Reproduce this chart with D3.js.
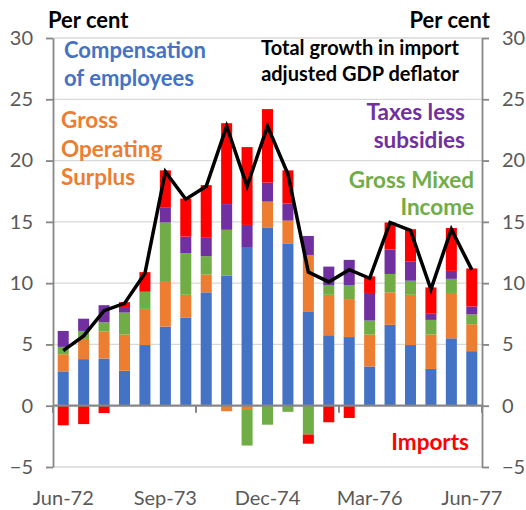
<!DOCTYPE html>
<html>
<head>
<meta charset="utf-8">
<script src="https://cdn.jsdelivr.net/npm/d3@7"></script>
<style>
  body { margin: 0; background: #fff; }
  svg text { font-family: Lato, "Open Sans", sans-serif; }
  .tick text { fill: #595959; font-size: 20px; }
  .note { font-weight: bold; }
</style>
</head>
<body>
<div id="chart"></div>
<script>
// quarterly contributions to growth in import adjusted GDP deflator (per cent)
var quarters = ['Jun-72', 'Sep-72', 'Dec-72', 'Mar-73', 'Jun-73', 'Sep-73', 'Dec-73', 'Mar-74', 'Jun-74', 'Sep-74', 'Dec-74',
  'Mar-75', 'Jun-75', 'Sep-75', 'Dec-75', 'Mar-76', 'Jun-76', 'Sep-76', 'Dec-76', 'Mar-77', 'Jun-77'];
var compensation = [2.8, 3.8, 3.85, 2.85, 4.95, 6.45, 7.2, 9.25, 10.6, 12.95, 14.55, 13.2, 7.65, 5.75, 5.6, 3.2, 6.6, 4.95, 3.0, 5.5, 4.45];
var operating = [1.4, 1.65, 2.2, 2.95, 2.95, 3.65, 1.85, 1.45, -0.45, -0.35, 2.1, 1.9, 4.65, 3.3, 3.1, 2.6, 2.65, 4.1, 2.8, 3.7, 2.2];
var mixed = [0.6, 0.65, 0.75, 1.8, 1.4, 4.85, 3.4, 1.5, 3.75, -2.9, -1.55, -0.5, -2.35, 0.8, 1.15, 1.15, 1.5, 1.15, 1.2, 1.15, 0.8];
var taxes = [1.3, 1.0, 1.4, 0.45, 0, 1.2, 1.35, 1.5, 2.1, 1.8, 1.55, 1.4, 1.55, 1.5, 2.05, 2.25, 2.0, 1.55, 0.5, 0.65, 0.65];
var imports = [-1.6, -1.5, -0.6, 0.4, 1.6, 3.05, 3.1, 4.3, 6.6, 6.35, 6.0, 2.7, -0.75, -1.35, -1.0, 1.35, 2.2, 2.65, 2.15, 3.5, 3.1];
var total = [4.5, 5.7, 7.75, 8.35, 10.8, 19.1, 16.85, 17.9, 22.8, 17.9, 22.8, 18.9, 10.9, 10.1, 11.1, 10.4, 14.95, 14.3, 9.5, 14.4, 11.1];
var yTicks = [-5, 0, 5, 10, 15, 20, 25, 30];
var xLabels = ['Jun-72', 'Sep-73', 'Dec-74', 'Mar-76', 'Jun-77'];

var keys = ['compensation', 'operating', 'mixed', 'taxes', 'imports'];
var colors = { compensation: '#4472C4', operating: '#ED7D31', mixed: '#70AD47', taxes: '#7030A0', imports: '#FF0000' };

var rows = quarters.map(function(q, i) {
  return { q: q, compensation: compensation[i], operating: operating[i], mixed: mixed[i],
    taxes: taxes[i], imports: imports[i], total: total[i] };
});

var w = 526, h = 510;
var plotLeft = 53, plotRight = 482, plotTop = 38, plotBottom = 467;

var svg = d3.select('#chart').append('svg')
  .attr('width', w)
  .attr('height', h);

var x = d3.scaleBand()
  .domain(quarters)
  .range([plotLeft, plotRight])
  .paddingInner(0.46)
  .paddingOuter(0.23);

var y = d3.scaleLinear()
  .domain([-5, 30])
  .range([plotBottom, plotTop]);

// gridlines
svg.append('g')
  .selectAll('line')
  .data(yTicks.filter(d => d != 0))
  .enter()
  .append('line')
    .attr('x1', plotLeft)
    .attr('x2', plotRight)
    .attr('y1', d => y(d))
    .attr('y2', d => y(d))
    .attr('stroke', '#D9D9D9')
    .attr('stroke-width', 1.3);

var series = d3.stack()
  .keys(keys)
  .offset(d3.stackOffsetDiverging)(rows);

svg.append('g')
  .selectAll('g')
  .data(series)
  .enter()
  .append('g')
    .attr('fill', d => colors[d.key])
  .selectAll('rect')
  .data(d => d)
  .enter()
  .append('rect')
    .attr('x', d => x(d.data.q))
    .attr('width', x.bandwidth())
    .attr('y', d => y(d[1]))
    .attr('height', d => Math.abs(y(d[0]) - y(d[1])));

// axes
var leftAxis = d3.axisLeft(y).tickValues(yTicks).tickSize(7).tickSizeOuter(0).tickPadding(13);
var rightAxis = d3.axisRight(y).tickValues(yTicks).tickSize(7).tickSizeOuter(0).tickPadding(13);

svg.append('g')
  .attr('class', 'axis')
  .attr('transform', 'translate(' + plotLeft + ',0)')
  .call(leftAxis);

svg.append('g')
  .attr('class', 'axis')
  .attr('transform', 'translate(' + plotRight + ',0)')
  .call(rightAxis);

// zero line with category tick marks every 7 quarters
svg.append('line')
  .attr('x1', plotLeft)
  .attr('x2', plotRight)
  .attr('y1', y(0))
  .attr('y2', y(0))
  .attr('stroke', '#868686')
  .attr('stroke-width', 2.2);

var gap = (x.step() - x.bandwidth()) / 2;
svg.append('g')
  .selectAll('line')
  .data([0, 7, 14, 21])
  .enter()
  .append('line')
    .attr('x1', i => i < 21 ? x(quarters[i]) - gap : x(quarters[20]) + x.bandwidth() + gap)
    .attr('x2', i => i < 21 ? x(quarters[i]) - gap : x(quarters[20]) + x.bandwidth() + gap)
    .attr('y1', y(0))
    .attr('y2', y(0) + 7)
    .attr('stroke', '#868686')
    .attr('stroke-width', 2);

svg.append('g')
  .attr('class', 'axis')
  .attr('transform', 'translate(0,' + (plotBottom + 20) + ')')
  .call(d3.axisBottom(x).tickValues(xLabels).tickSize(0).tickPadding(4))
  .call(g => g.select('.domain').remove());

svg.selectAll('.axis .domain, .axis .tick line')
  .attr('stroke', '#868686')
  .attr('stroke-width', 1.8);

// total line
svg.append('path')
  .datum(rows)
  .attr('fill', 'none')
  .attr('stroke', '#000')
  .attr('stroke-width', 3.5)
  .attr('stroke-linejoin', 'miter')
  .attr('d', d3.line()
    .x(d => x(d.q) + x.bandwidth() / 2)
    .y(d => y(d.total)));

// labels
var notes = [
  { t: 'Per cent', x: 48, y: 28, c: '#000', a: 'start', s: 22 },
  { t: 'Per cent', x: 490, y: 28, c: '#000', a: 'end', s: 22 },
  { t: 'Compensation', x: 64, y: 58, c: colors.compensation, a: 'start', s: 22 },
  { t: 'of employees', x: 64, y: 86, c: colors.compensation, a: 'start', s: 22 },
  { t: 'Gross', x: 61, y: 128, c: colors.operating, a: 'start', s: 22.5 },
  { t: 'Operating', x: 61, y: 157, c: colors.operating, a: 'start', s: 22.5 },
  { t: 'Surplus', x: 61, y: 185, c: colors.operating, a: 'start', s: 22.5 },
  { t: 'Total growth in import', x: 360, y: 55, c: '#000', a: 'middle', s: 20 },
  { t: 'adjusted GDP deflator', x: 360, y: 81, c: '#000', a: 'middle', s: 20 },
  { t: 'Taxes less', x: 465, y: 120, c: colors.taxes, a: 'end', s: 22.5 },
  { t: 'subsidies', x: 465, y: 148, c: colors.taxes, a: 'end', s: 22.5 },
  { t: 'Gross Mixed', x: 474, y: 188, c: colors.mixed, a: 'end', s: 22.5 },
  { t: 'Income', x: 474, y: 215, c: colors.mixed, a: 'end', s: 22.5 },
  { t: 'Imports', x: 469, y: 450, c: colors.imports, a: 'end', s: 22.5 }
];

svg.append('g')
  .selectAll('text')
  .data(notes)
  .enter()
  .append('text')
    .attr('class', 'note')
    .attr('x', d => d.x)
    .attr('y', d => d.y)
    .attr('fill', d => d.c)
    .attr('text-anchor', d => d.a)
    .attr('font-size', d => d.s)
    .text(d => d.t);
</script>
</body>
</html>
